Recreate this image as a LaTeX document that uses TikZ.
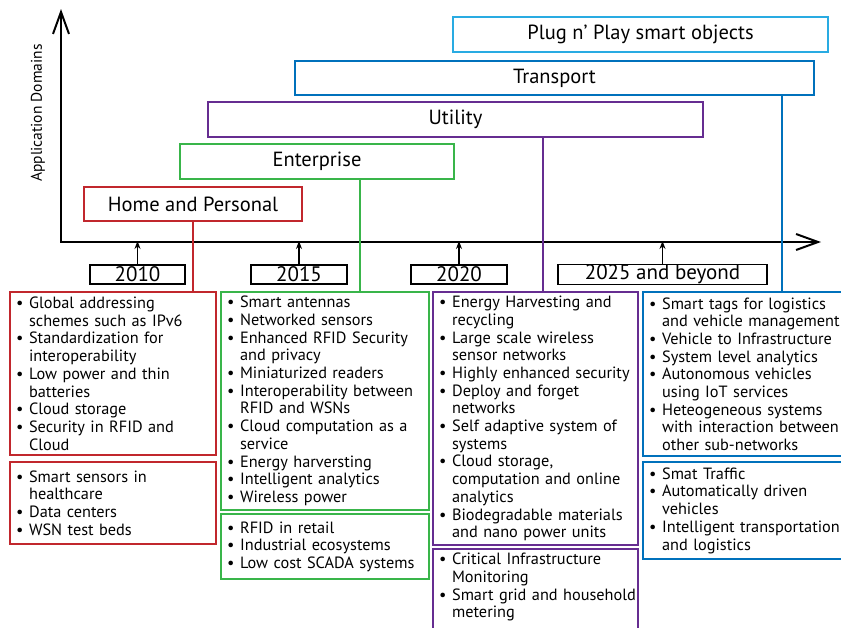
\documentclass[tikz,border=0pt]{standalone}
\usepackage{fontspec}
\setmainfont{PT Sans}
\usetikzlibrary{arrows.meta}
\definecolor{cRed}{HTML}{C1272D}
\definecolor{cGreen}{HTML}{39B54A}
\definecolor{cPurple}{HTML}{662D91}
\definecolor{cBlue}{HTML}{0071BC}
\definecolor{cSky}{HTML}{29ABE2}
% bullet and continuation indent for the list boxes
\newcommand\bu{\makebox[13pt][l]{\textbullet}}
\newcommand\ct{\hspace*{13pt}}
\begin{document}
\begin{tikzpicture}[x=1pt,y=-1pt,
  dom/.style={draw, line width=2.2pt, inner sep=0pt, font=\fontsize{20.5}{24}\selectfont},
  yr/.style={draw=black, line width=1.2pt, inner sep=0pt, minimum height=19pt,
             font=\fontsize{21}{24}\selectfont},
  lst/.style={draw, line width=2.2pt, anchor=north west, align=left, inner xsep=6pt,
              inner ysep=4pt, font=\fontsize{16.3}{17.7}\selectfont},
  axis/.style={line width=2pt, line join=miter,
               {Straight Barb[length=22pt,width=16pt,line width=2pt]}-{Straight Barb[length=22pt,width=16pt,line width=2pt]}},
  tick/.style={line width=1.2pt, -{Stealth[length=8pt,width=6pt]}, shorten >=-1pt},
  link/.style={line width=2.2pt}
]
\useasboundingbox (0,0) rectangle (841,627);
\clip (0,0) rectangle (841,627);

% axes
\coordinate (O) at (61,242);
\coordinate (ytop) at (61,9);
\coordinate (xend) at (821,242);
\draw[axis] (ytop) -- (O) -- (xend);
\node[rotate=90, font=\fontsize{15.5}{18}\selectfont] (ylab) at (38,113) {Application Domains};

% application domains
\node[dom, draw=cRed,    minimum width=218pt, minimum height=34pt] (home) at (193,204) {Home and Personal};
\node[dom, draw=cGreen,  minimum width=274pt, minimum height=35pt] (ent)  at (317,161.5) {Enterprise};
\node[dom, draw=cPurple, minimum width=495pt, minimum height=35pt] (util) at (455.5,119.5) {Utility};
\node[dom, draw=cBlue,   minimum width=519pt, minimum height=34pt] (trans) at (554.5,78) {Transport};
\node[dom, draw=cSky,    minimum width=375pt, minimum height=35pt] (plug) at (640.5,34.5) {Plug n’ Play smart objects};

% years
\node[yr, minimum width=95pt]  (y10) at (137.5,274.5) {2010};
\node[yr, minimum width=96pt]  (y15) at (299,274.5) {2015};
\node[yr, minimum width=96pt]  (y20) at (459,274.5) {2020};
\node[yr, minimum width=209pt] (y25) at (662.5,274.5) {2025 and beyond};
\foreach \y in {y10,y15,y20,y25}
  \draw[tick] (\y.north) -- (\y.north |- O);

% technology lists
\node[lst, draw=cRed, text width=194pt, minimum height=163pt] (l10a) at (9,291)
 {\bu Global addressing\\ \ct schemes such as IPv6\\ \bu Standardization for\\ \ct interoperability\\
  \bu Low power and thin\\ \ct batteries\\ \bu Cloud storage\\ \bu Security in RFID and\\ \ct Cloud};
\node[lst, draw=cRed, text width=194pt, minimum height=82pt] (l10b) at (9,461)
 {\bu Smart sensors in\\ \ct healthcare\\ \bu Data centers\\ \bu WSN test beds};

\node[lst, draw=cGreen, text width=196pt, minimum height=217pt] (l15a) at (220,291)
 {\bu Smart antennas\\ \bu Networked sensors\\ \bu Enhanced RFID Security\\ \ct and privacy\\
  \bu Miniaturized readers\\ \bu Interoperability between\\ \ct RFID and WSNs\\
  \bu Cloud computation as a\\ \ct service\\ \bu Energy harversting\\ \bu Intelligent analytics\\ \bu Wireless power};
\node[lst, draw=cGreen, text width=196pt, minimum height=65pt] (l15b) at (220,513)
 {\bu RFID in retail\\ \bu Industrial ecosystems\\ \bu Low cost SCADA systems};

\node[lst, draw=cPurple, text width=193pt, minimum height=253pt] (l20a) at (432,291)
 {\bu Energy Harvesting and\\ \ct recycling\\ \bu Large scale wireless\\ \ct sensor networks\\
  \bu Highly enhanced security\\ \bu Deploy and forget\\ \ct networks\\ \bu Self adaptive system of\\ \ct systems\\
  \bu Cloud storage,\\ \ct computation and online\\ \ct analytics\\ \bu Biodegradable materials\\ \ct and nano power units};
\node[lst, draw=cPurple, text width=193pt] (l20b) at (432,548)
 {\bu Critical Infrastructure\\ \ct Monitoring\\ \bu \mbox{Smart grid and household}\\ \ct metering\\[30pt]\mbox{}};

\node[lst, draw=cBlue, text width=200pt, minimum height=164pt] (l25a) at (642,291)
 {\bu Smart tags for logistics\\ \ct \mbox{and vehicle management}\\ \bu Vehicle to Infrastructure\\
  \bu System level analytics\\ \bu Autonomous vehicles\\ \ct using IoT services\\
  \bu Heteogeneous systems\\ \ct \mbox{with interaction between}\\ \ct other sub-networks};
\node[lst, draw=cBlue, text width=200pt, minimum height=97pt] (l25b) at (642,461)
 {\bu Smat Traffic\\ \bu Automatically driven\\ \ct vehicles\\ \bu \mbox{Intelligent transportation}\\ \ct and logistics};

% links from each domain down to its list
\coordinate (kx1) at (193,0);
\coordinate (kx2) at (360,0);
\coordinate (kx3) at (543,0);
\coordinate (kx4) at (782,0);
\draw[link, cRed]    (home.south -| kx1)  -- (l10a.north -| kx1);
\draw[link, cGreen]  (ent.south -| kx2)   -- (l15a.north -| kx2);
\draw[link, cPurple] (util.south -| kx3)  -- (l20a.north -| kx3);
\draw[link, cBlue]   (trans.south -| kx4) -- (l25a.north -| kx4);
\end{tikzpicture}
\end{document}
